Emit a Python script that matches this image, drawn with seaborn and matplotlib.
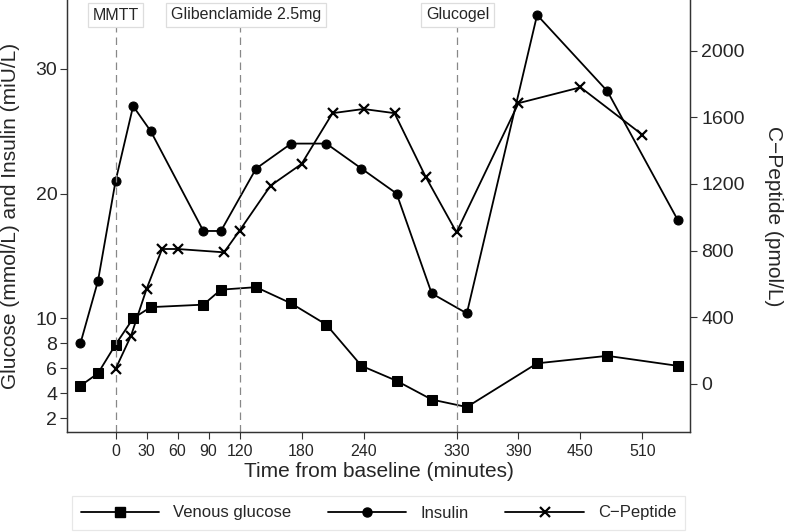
import numpy as np
import pandas as pd
import matplotlib
matplotlib.use("Agg")
import matplotlib.pyplot as plt
import seaborn as sns
from matplotlib.lines import Line2D

# glucose / insulin sampling times (minutes) and values
time_gi = [-34, -17, 0, 17, 34, 85, 102, 136, 170, 204, 238, 272, 306, 340, 408, 476, 544]
glucose = [4.6, 5.6, 7.9, 10.0, 10.9, 11.1, 12.3, 12.5, 11.2, 9.5, 6.2, 5.0, 3.5, 2.9, 6.4, 7.0, 6.2]
insulin = [8.0, 13.0, 21.0, 27.0, 25.0, 17.0, 17.0, 22.0, 24.0, 24.0, 22.0, 20.0, 12.0, 10.4, 34.3, 28.2, 17.9]

# c-peptide times and values
time_cp = [0, 15, 30, 45, 60, 105, 120, 150, 180, 210, 240, 270, 300, 330, 390, 450, 510]
cpeptide = [90, 290, 570, 810, 810, 790, 920, 1190, 1320, 1625, 1650, 1625, 1245, 910, 1685, 1780, 1495]

events = ["MMTT", "Glibenclamide 2.5mg", "Glucogel"]
event_times = [0, 120, 330]

xticks = [0, 30, 60, 90, 120, 180, 240, 330, 390, 450, 510]
yticks_left = [2, 4, 6, 8, 10, 20, 30]
yticks_right = [0, 400, 800, 1200, 1600, 2000]

sns.set_theme(style="ticks")
plt.rcParams["font.family"] = ["Liberation Sans", "DejaVu Sans"]

df_gi = pd.DataFrame({"time": time_gi, "glucose": glucose, "insulin": insulin})
df_cp = pd.DataFrame({"time": time_cp, "cpeptide": cpeptide})

fig = plt.figure(figsize=(7.85, 5.32), dpi=100)
ax = fig.add_axes([67/785, 1-432/532, (690-67)/785, 432/532])
ax2 = ax.twinx()

lw = 1.3
sns.lineplot(data=df_gi, x="time", y="glucose", ax=ax, color="black", lw=lw,
             marker="s", markersize=6.5, markeredgecolor="black", sort=False)
sns.lineplot(data=df_gi, x="time", y="insulin", ax=ax, color="black", lw=lw,
             marker="o", markersize=6.5, markeredgecolor="black", sort=False)
sns.lineplot(data=df_cp, x="time", y="cpeptide", ax=ax2, color="black", lw=lw,
             marker="x", markersize=7, markeredgewidth=1.6, markeredgecolor="black", sort=False)

ax.set_xlim(-47, 556)
ax.set_ylim(0.9, 35.5)
ax2.set_ylim(-288, 2304)

ax.set_xticks(xticks)
ax.set_yticks(yticks_left)
ax2.set_yticks(yticks_right)
ax.tick_params(axis="x", bottom=True, direction="out", color="#333333",
               labelsize=11.5, length=5, width=0.8, pad=4)
ax.tick_params(axis="y", left=True, right=False, direction="out", color="#333333",
               labelsize=14, length=5, width=0.8, pad=2)
ax2.tick_params(axis="y", right=True, left=False, direction="out", color="#333333",
                labelsize=14, length=5, width=0.8, pad=3)

ax.set_xlabel("Time from baseline (minutes)", fontsize=15, labelpad=2)
ax.set_ylabel("Glucose (mmol/L) and Insulin (miU/L)", fontsize=15, labelpad=11)
ax2.set_ylabel("C\u2212Peptide (pmol/L)", fontsize=15, rotation=270, labelpad=28)

for a in (ax, ax2):
    a.spines["top"].set_visible(False)
    for s in ("left", "right", "bottom"):
        a.spines[s].set_linewidth(0.9)
        a.spines[s].set_color("#333333")

# event markers
label_shift = [0, 6, 1]
for name, t, dx in zip(events, event_times, label_shift):
    ax.axvline(t, ymin=0, ymax=1-27/432, color="#888888", lw=0.9, ls=(0, (6, 4)))
    ax.text(t + dx, 1-15/432, name, transform=ax.get_xaxis_transform(),
            ha="center", va="center", fontsize=11.5,
            bbox=dict(boxstyle="square,pad=0.3", fc="white", ec="#dddddd", lw=0.9))

handles = [
    Line2D([], [], color="black", lw=lw, marker="s", markersize=6.5),
    Line2D([], [], color="black", lw=lw, marker="o", markersize=6.5),
    Line2D([], [], color="black", lw=lw, marker="x", markersize=7, markeredgewidth=1.6),
]
leg = fig.legend(handles, ["Venous glucose", "Insulin", "C\u2212Peptide"],
                 loc="center", bbox_to_anchor=(378.5/785, 1-513/532), ncol=3,
                 fontsize=12, frameon=True, fancybox=False, handlelength=4.7,
                 handletextpad=0.85, columnspacing=2.2, borderpad=0.55)
leg.get_frame().set_edgecolor("#e2e2e2")
leg.get_frame().set_linewidth(0.9)

fig.savefig("out.png", dpi=100)
